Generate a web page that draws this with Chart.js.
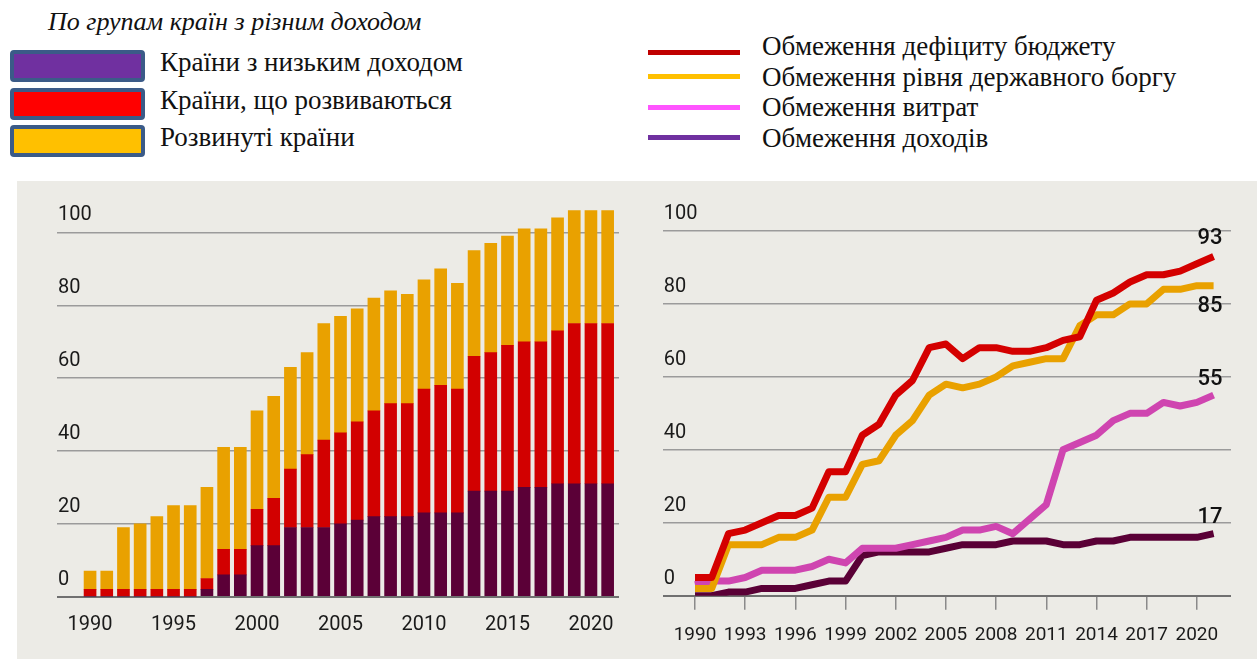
<!DOCTYPE html>
<html lang="uk">
<head>
<meta charset="utf-8">
<script src="https://cdn.jsdelivr.net/npm/chart.js@4.4.1/dist/chart.umd.min.js"></script>
<style>
  body { margin: 0; width: 1257px; height: 659px; background: #fff; position: relative; overflow: hidden;
         font-family: "Liberation Serif", "Times New Roman", serif; color: #111; }
  #title { position: absolute; left: 48px; top: 8px; font-style: italic; font-size: 26px; line-height: 28px; white-space: nowrap; }
  .box { position: absolute; left: 10px; width: 127px; height: 24px; border: 4px solid #3b5b88; border-radius: 4px; }
  .ltxt { position: absolute; left: 160px; font-size: 27px; line-height: 30px; white-space: nowrap; }
  .ln { position: absolute; left: 648px; width: 92px; height: 5px; }
  .rtxt { position: absolute; left: 762px; font-size: 27px; line-height: 30px; white-space: nowrap; }
  #panel { position: absolute; left: 17px; top: 181px; width: 1240px; height: 478px; background: #ecebe6; }
  canvas { position: absolute; top: 181px; }
</style>
</head>
<body>
<div id="title">По групам країн з різним доходом</div>
<div id="legendLeft"></div>
<div id="legendRight"></div>
<div id="panel"></div>
<canvas id="barChart" width="620" height="478" style="left:17px"></canvas>
<canvas id="lineChart" width="620" height="478" style="left:637px"></canvas>

<script>
// Data
const years = [1990, 1991, 1992, 1993, 1994, 1995, 1996, 1997, 1998, 1999, 2000, 2001, 2002, 2003, 2004, 2005,
               2006, 2007, 2008, 2009, 2010, 2011, 2012, 2013, 2014, 2015, 2016, 2017, 2018, 2019, 2020, 2021];

// number of countries with fiscal rules, by income group (stacked)
const lowIncome = [0, 0, 0, 0, 0, 0, 0, 2, 6, 6, 14, 14, 19, 19, 19, 20, 21, 22, 22, 22, 23, 23, 23, 29, 29, 29, 30, 30, 31, 31, 31, 31];
const emerging  = [2, 2, 2, 2, 2, 2, 2, 3, 7, 7, 10, 13, 16, 20, 24, 25, 27, 29, 31, 31, 34, 35, 34, 37, 38, 40, 40, 40, 42, 44, 44, 44];
const advanced  = [5, 5, 17, 18, 20, 23, 23, 25, 28, 28, 27, 28, 28, 28, 32, 32, 31, 31, 31, 30, 30, 32, 29, 29, 30, 30, 31, 31, 31, 31, 31, 31];

// number of countries by type of rule
const deficitRule  = [5, 5, 17, 18, 20, 22, 22, 24, 34, 34, 44, 47, 55, 59, 68, 69, 65, 68, 68, 67, 67, 68, 70, 71, 81, 83, 86, 88, 88, 89, 91, 93];
const debtRule     = [2, 2, 14, 14, 14, 16, 16, 18, 27, 27, 36, 37, 44, 48, 55, 58, 57, 58, 60, 63, 64, 65, 65, 74, 77, 77, 80, 80, 84, 84, 85, 85];
const spendingRule = [3, 4, 4, 5, 7, 7, 7, 8, 10, 9, 13, 13, 13, 14, 15, 16, 18, 18, 19, 17, 21, 25, 40, 42, 44, 48, 50, 50, 53, 52, 53, 55];
const revenueRule  = [0, 0, 1, 1, 2, 2, 2, 3, 4, 4, 11, 12, 12, 12, 12, 13, 14, 14, 14, 15, 15, 15, 14, 14, 15, 15, 16, 16, 16, 16, 16, 17];

const yTicks = [0, 20, 40, 60, 80, 100];
const barYearTicks = [1990, 1995, 2000, 2005, 2010, 2015, 2020];
const lineYearTicks = [1990, 1993, 1996, 1999, 2002, 2005, 2008, 2011, 2014, 2017, 2020];

const barLabels = ['Країни з низьким доходом', 'Країни, що розвиваються', 'Розвинуті країни'];
const lineLabels = ['Обмеження дефіциту бюджету', 'Обмеження рівня державного боргу', 'Обмеження витрат', 'Обмеження доходів'];

// Styles
const barColors = ['#5b0037', '#d20000', '#e9a100'];
const lineColors = ['#d40000', '#e9a100', '#cf45b0', '#5a0036'];
const legendBoxColors = ['#7030a0', '#ff0000', '#ffc000'];
const legendLineColors = ['#c00000', '#ffc000', '#ff55ff', '#7030a0'];
const AXIS_FAMILY = 'Roboto, "Liberation Sans", sans-serif';

// HTML legends
const $ = (s) => document.querySelector(s);
const boxTops = [50, 88, 125];
const boxTextTops = [47, 85, 122];
barLabels.forEach((label, i) => {
  $('#legendLeft').insertAdjacentHTML('beforeend',
    `<div class="box" style="top:${boxTops[i]}px;background:${legendBoxColors[i]}"></div>` +
    `<div class="ltxt" style="top:${boxTextTops[i]}px">${label}</div>`);
});
const lineTops = [50, 74, 105, 135];
const lineTextTops = [31, 62, 92, 123];
lineLabels.forEach((label, i) => {
  $('#legendRight').insertAdjacentHTML('beforeend',
    `<div class="ln" style="top:${lineTops[i]}px;background:${legendLineColors[i]}"></div>` +
    `<div class="rtxt" style="top:${lineTextTops[i]}px">${label}</div>`);
});

const pts = (vals) => vals.map((v, i) => ({ x: years[i], y: v }));

function valueAxis(stacked) {
  return {
    stacked,
    min: 0, max: 110,
    afterBuildTicks: (s) => { s.ticks = yTicks.map((v) => ({ value: v })); },
    afterFit: (s) => { s.width = 0; },
    grid: {
      drawTicks: false,
      color: (c) => (c.tick && c.tick.value === 0 ? '#707070' : '#9b9b9b'),
      lineWidth: (c) => (c.tick && c.tick.value === 0 ? 2 : 1.5)
    },
    border: { display: false },
    ticks: { mirror: true, padding: 1, labelOffset: -17, color: '#1a1a1a', font: { family: AXIS_FAMILY, size: 20 } }
  };
}

Chart.defaults.animation = false;

/* ---------- Stacked bars ---------- */
new Chart($('#barChart'), {
  type: 'bar',
  data: {
    datasets: [
      { label: barLabels[0], data: pts(lowIncome), backgroundColor: barColors[0] },
      { label: barLabels[1], data: pts(emerging), backgroundColor: barColors[1] },
      { label: barLabels[2], data: pts(advanced), backgroundColor: barColors[2] }
    ]
  },
  options: {
    responsive: false,
    barThickness: 12,
    layout: { padding: { left: 40, right: 18, top: 15, bottom: 0 } },
    plugins: { legend: { display: false }, tooltip: { enabled: false } },
    scales: {
      x: {
        type: 'linear', stacked: true, offset: false,
        min: 1988.02, max: 2021.68,
        afterBuildTicks: (s) => { s.ticks = barYearTicks.map((v) => ({ value: v })); },
        afterFit: (s) => { s.height = 62.3; },
        grid: { display: false },
        border: { display: false },
        ticks: { padding: 8, maxRotation: 0, autoSkip: false, color: '#1a1a1a',
                 font: { family: AXIS_FAMILY, size: 20 }, callback: (v) => String(v) }
      },
      y: valueAxis(true)
    }
  }
});

/* ---------- Lines ---------- */
const endLabelOffsets = [-18, 21, -16, -16];
const endLabels = {
  id: 'endLabels',
  afterDatasetsDraw(chart) {
    const { ctx } = chart;
    ctx.save();
    ctx.font = '500 22px Roboto, sans-serif';
    ctx.fillStyle = '#111';
    ctx.textAlign = 'right';
    ctx.textBaseline = 'middle';
    chart.data.datasets.forEach((ds, i) => {
      const meta = chart.getDatasetMeta(i);
      const last = meta.data[meta.data.length - 1];
      ctx.fillText(String(ds.data[ds.data.length - 1].y), last.x + 9, last.y + endLabelOffsets[i]);
    });
    ctx.restore();
  }
};

const lineSeries = [deficitRule, debtRule, spendingRule, revenueRule];
new Chart($('#lineChart'), {
  type: 'line',
  data: {
    datasets: lineSeries.map((vals, i) => ({
      label: lineLabels[i], data: pts(vals),
      borderColor: lineColors[i], borderWidth: 7, pointRadius: 0,
      borderJoinStyle: 'round', tension: 0, fill: false
    }))
  },
  options: {
    responsive: false,
    layout: { padding: { left: 25.7, right: 26, top: 13.5, bottom: 0 } },
    plugins: { legend: { display: false }, tooltip: { enabled: false } },
    scales: {
      x: {
        type: 'linear',
        min: 1988.07, max: 2022.04,
        afterBuildTicks: (s) => { s.ticks = lineYearTicks.map((v) => ({ value: v })); },
        afterFit: (s) => { s.height = 63.3; },
        grid: { drawOnChartArea: false, drawTicks: true, tickLength: 14, color: '#8a8a8a', lineWidth: 1.5 },
        border: { display: false },
        ticks: { padding: 14, maxRotation: 0, autoSkip: false, color: '#1a1a1a',
                 font: { family: AXIS_FAMILY, size: 19 }, callback: (v) => String(v) }
      },
      y: valueAxis(false)
    }
  },
  plugins: [endLabels]
});
</script>
</body>
</html>
